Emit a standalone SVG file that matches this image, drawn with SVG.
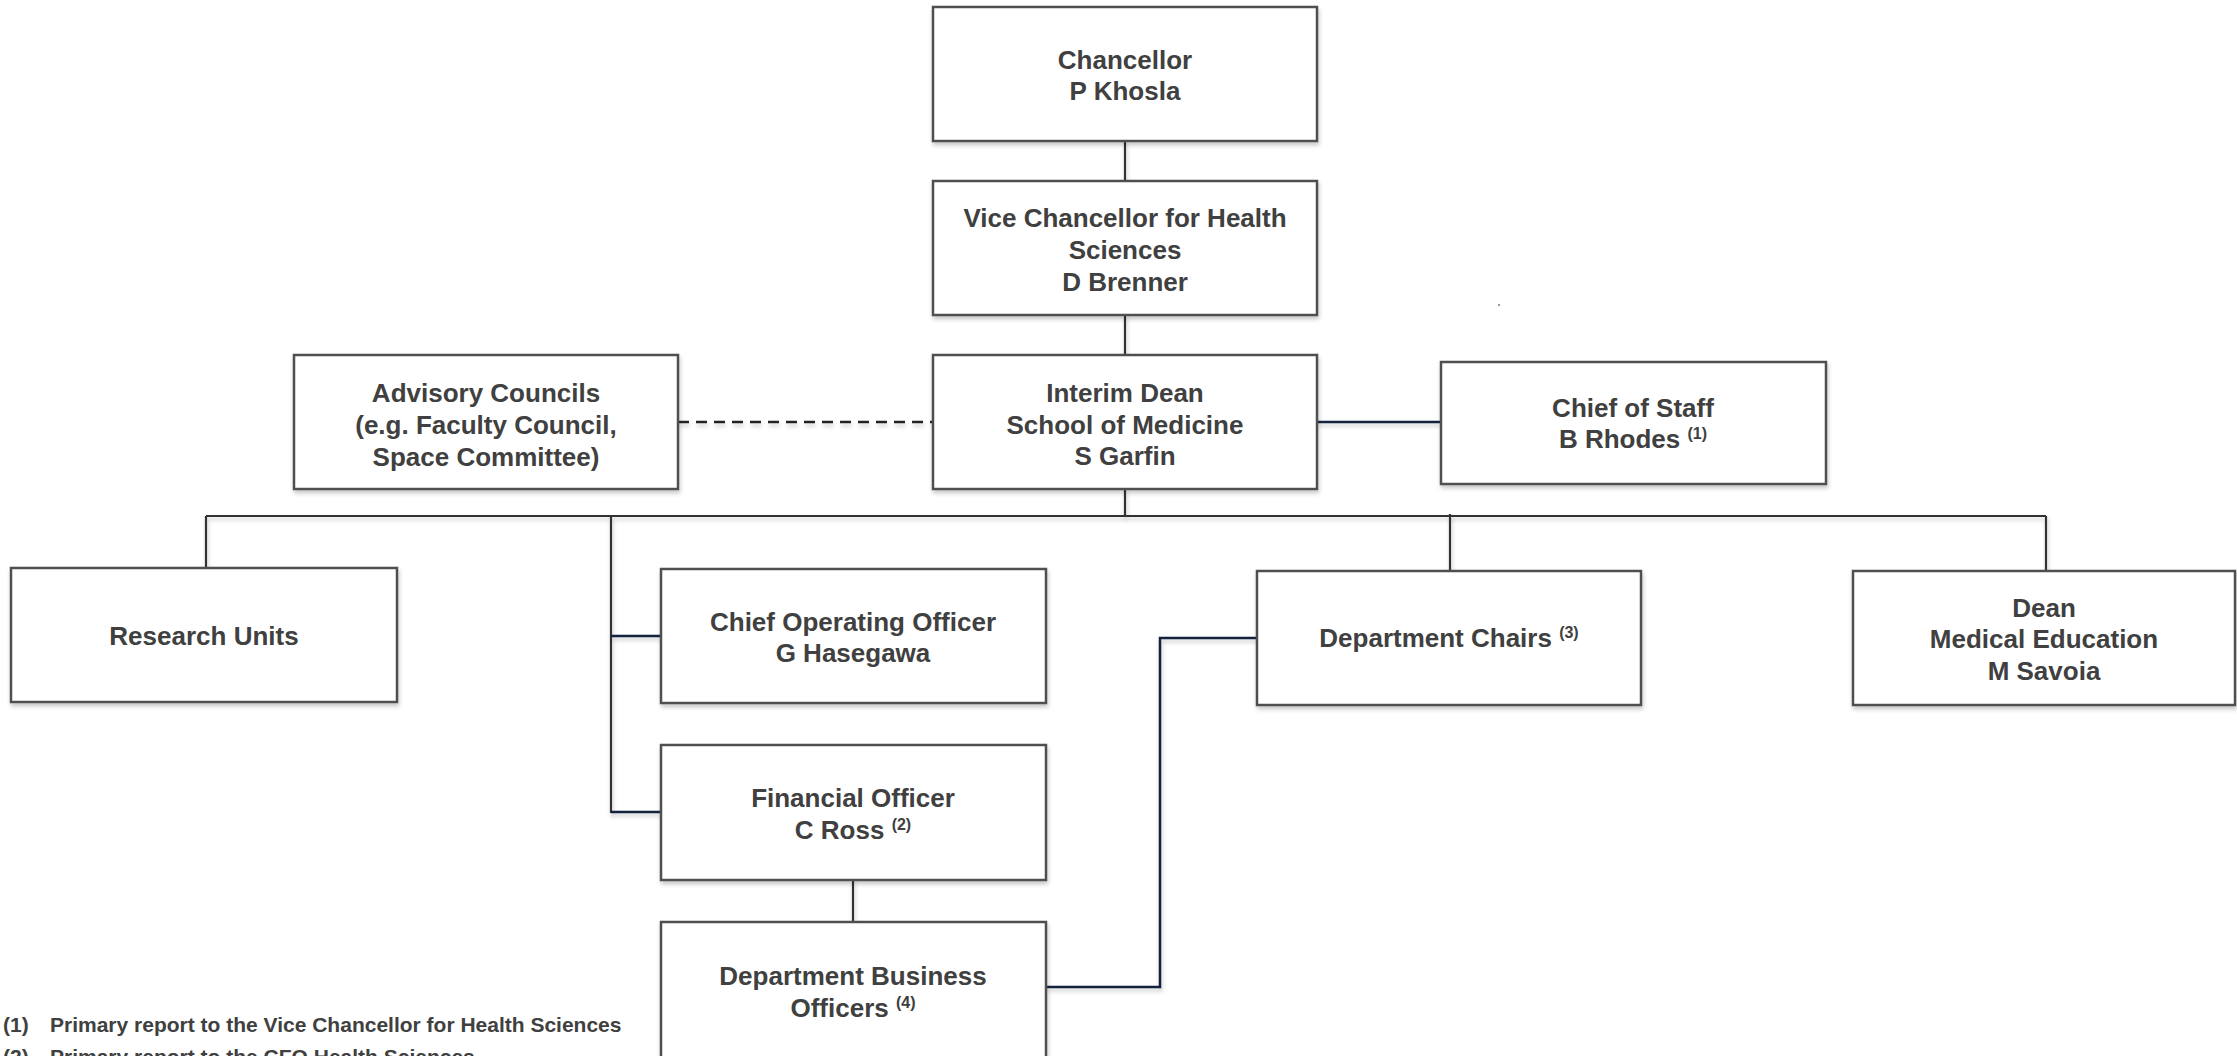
<svg xmlns="http://www.w3.org/2000/svg" width="2237" height="1056" viewBox="0 0 2237 1056">
<defs>
<filter id="sh" filterUnits="userSpaceOnUse" x="0" y="0" width="2237" height="1056">
<feDropShadow dx="1" dy="3" stdDeviation="2" flood-color="#000" flood-opacity="0.22"/>
</filter>
<style>
.box{fill:#fff;stroke:#505050;stroke-width:2.5;filter:url(#sh)}
.t{font-family:"Liberation Sans",Arial,sans-serif;font-weight:bold;font-size:26px;fill:#404040;text-anchor:middle}
.sup{font-size:16px}
.fn{font-family:"Liberation Sans",Arial,sans-serif;font-weight:bold;font-size:21px;fill:#404040}
.ln{fill:none;stroke:#333;stroke-width:2.2;filter:url(#sh)}
.nv{fill:none;stroke:#16213d;stroke-width:2.5;filter:url(#sh)}
.dash{fill:none;stroke:#222;stroke-width:2.5;stroke-dasharray:11 7;filter:url(#sh)}
</style>
</defs>
<rect width="2237" height="1056" fill="#fff"/>
<g id="connectors">
<line class="ln" x1="1125" y1="141" x2="1125" y2="181"/>
<line class="ln" x1="1125" y1="315" x2="1125" y2="355"/>
<line class="ln" x1="1125" y1="489" x2="1125" y2="516"/>
<line class="dash" x1="678" y1="422" x2="933" y2="422"/>
<line class="nv" x1="1317" y1="422" x2="1441" y2="422"/>
<line class="ln" x1="206" y1="516" x2="2046" y2="516"/>
<line class="ln" x1="206" y1="516" x2="206" y2="568"/>
<line class="ln" x1="611" y1="516" x2="611" y2="813"/>
<line class="ln" x1="1450" y1="514" x2="1450" y2="571"/>
<line class="ln" x1="2046" y1="516" x2="2046" y2="571"/>
<line class="nv" x1="611" y1="636" x2="661" y2="636"/>
<line class="nv" x1="611" y1="812" x2="661" y2="812"/>
<line class="ln" x1="853" y1="880" x2="853" y2="922"/>
<polyline class="nv" points="1046,987 1160,987 1160,638 1257,638"/>
</g>
<g id="chancellor">
<rect class="box" x="933" y="7" width="384" height="134"/>
<text class="t" x="1125" y="69">Chancellor</text>
<text class="t" x="1125" y="100">P Khosla</text>
</g>
<g id="vice-chancellor">
<rect class="box" x="933" y="181" width="384" height="134"/>
<text class="t" x="1125" y="227">Vice Chancellor for Health</text>
<text class="t" x="1125" y="259">Sciences</text>
<text class="t" x="1125" y="291">D Brenner</text>
</g>
<g id="interim-dean">
<rect class="box" x="933" y="355" width="384" height="134"/>
<text class="t" x="1125" y="402">Interim Dean</text>
<text class="t" x="1125" y="434">School of Medicine</text>
<text class="t" x="1125" y="465">S Garfin</text>
</g>
<g id="advisory-councils">
<rect class="box" x="294" y="355" width="384" height="134"/>
<text class="t" x="486" y="402">Advisory Councils</text>
<text class="t" x="486" y="434">(e.g. Faculty Council,</text>
<text class="t" x="486" y="466">Space Committee)</text>
</g>
<g id="chief-of-staff">
<rect class="box" x="1441" y="362" width="385" height="122"/>
<text class="t" x="1633" y="417">Chief of Staff</text>
<text class="t" x="1633" y="448">B Rhodes <tspan class="sup" dy="-9">(1)</tspan></text>
</g>
<g id="research-units">
<rect class="box" x="11" y="568" width="386" height="134"/>
<text class="t" x="204" y="645">Research Units</text>
</g>
<g id="coo">
<rect class="box" x="661" y="569" width="385" height="134"/>
<text class="t" x="853" y="631">Chief Operating Officer</text>
<text class="t" x="853" y="662">G Hasegawa</text>
</g>
<g id="financial-officer">
<rect class="box" x="661" y="745" width="385" height="135"/>
<text class="t" x="853" y="807">Financial Officer</text>
<text class="t" x="853" y="839">C Ross <tspan class="sup" dy="-9">(2)</tspan></text>
</g>
<g id="dept-business-officers">
<rect class="box" x="661" y="922" width="385" height="140"/>
<text class="t" x="853" y="985">Department Business</text>
<text class="t" x="853" y="1017">Officers <tspan class="sup" dy="-9">(4)</tspan></text>
</g>
<g id="department-chairs">
<rect class="box" x="1257" y="571" width="384" height="134"/>
<text class="t" x="1449" y="647">Department Chairs <tspan class="sup" dy="-9">(3)</tspan></text>
</g>
<g id="dean-medical-education">
<rect class="box" x="1853" y="571" width="382" height="134"/>
<text class="t" x="2044" y="617">Dean</text>
<text class="t" x="2044" y="648">Medical Education</text>
<text class="t" x="2044" y="680">M Savoia</text>
</g>
<g id="footnotes">
<text class="fn" x="3" y="1032">(1)<tspan x="50">Primary report to the Vice Chancellor for Health Sciences</tspan></text>
<text class="fn" x="3" y="1064">(2)<tspan x="50">Primary report to the CFO Health Sciences</tspan></text>
</g>
<rect x="1498" y="304" width="2" height="2" fill="#999"/>
</svg>
